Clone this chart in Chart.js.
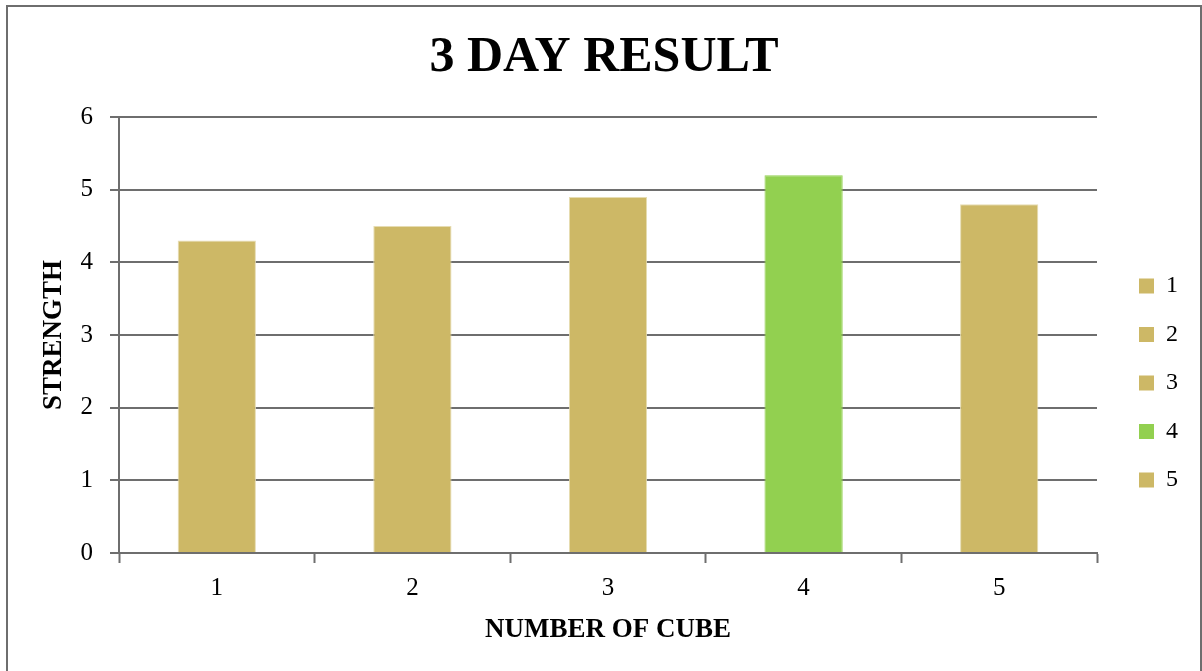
<!DOCTYPE html>
<html>
<head>
<meta charset="utf-8">
<title>3 DAY RESULT</title>
<script src="https://cdn.jsdelivr.net/npm/chart.js@4"></script>
<style>
  html, body { margin: 0; padding: 0; background: #ffffff; }
  #wrap { width: 1202px; height: 671px; }
</style>
</head>
<body>
<div id="wrap"><canvas id="chart" width="1202" height="671"></canvas></div>
<script>
// Cube numbers and their 3-day strength results
const cubes = ['1', '2', '3', '4', '5'];
const strength = [4.3, 4.5, 4.9, 5.2, 4.8];
const yTicks = [0, 1, 2, 3, 4, 5, 6];

const TAN = '#CDB866';
const GREEN = '#92D050';
const barColors = [TAN, TAN, TAN, GREEN, TAN];
const barEdges = ['#E6DCB2', '#E6DCB2', '#E6DCB2', GREEN, '#E6DCB2'];

const AXIS = '#6E6E6E';
const SERIF = "'Liberation Serif', 'DejaVu Serif', serif";

// Thin frame around the whole chart
const framePlugin = {
  id: 'frame',
  afterDraw(chart) {
    const ctx = chart.ctx;
    ctx.save();
    ctx.strokeStyle = AXIS;
    ctx.lineWidth = 2;
    ctx.strokeRect(7, 6, chart.width - 8, chart.height + 20);
    ctx.restore();
  }
};

new Chart(document.getElementById('chart'), {
  type: 'bar',
  data: {
    labels: cubes,
    datasets: [{
      label: 'STRENGTH',
      data: strength,
      backgroundColor: barColors,
      borderColor: barEdges,
      borderWidth: 1,
      barPercentage: 0.4,
      categoryPercentage: 1.0
    }]
  },
  options: {
    responsive: false,
    animation: false,
    devicePixelRatio: 1,
    layout: { padding: { left: 20, right: 14, top: 0, bottom: 0 } },
    plugins: {
      title: {
        display: true,
        text: '3 DAY RESULT',
        color: '#000',
        font: { family: SERIF, size: 50, weight: 'bold', lineHeight: 1.2 },
        padding: { top: 28, bottom: 29 }
      },
      legend: {
        display: true,
        position: 'right',
        align: 'center',
        title: {
          display: true,
          text: ' ',
          font: { size: 10, lineHeight: 1.2 },
          padding: { top: 83, bottom: 0 }
        },
        labels: {
          boxWidth: 15,
          boxHeight: 15,
          padding: 24.5,
          color: '#000',
          font: { family: SERIF, size: 24 },
          generateLabels: () => cubes.map((c, i) => ({
            text: c,
            fillStyle: barColors[i],
            strokeStyle: barColors[i],
            fontColor: '#000',
            lineWidth: 0,
            hidden: false,
            index: i,
            datasetIndex: 0
          }))
        }
      },
      tooltip: { enabled: false }
    },
    scales: {
      x: {
        offset: true,
        grid: {
          display: true,
          offset: true,
          drawOnChartArea: false,
          drawTicks: true,
          tickLength: 10,
          tickColor: AXIS,
          tickWidth: 2,
          color: AXIS
        },
        border: { display: true, color: AXIS, width: 2 },
        ticks: {
          color: '#000',
          padding: 10,
          font: { family: SERIF, size: 25, lineHeight: 1.2 }
        },
        title: {
          display: true,
          text: 'NUMBER OF CUBE',
          color: '#000',
          font: { family: SERIF, size: 27, weight: 'bold', lineHeight: 1.2 },
          padding: { top: 0, bottom: 25 }
        },
        afterFit: s => { s.height = 118; }
      },
      y: {
        min: yTicks[0],
        max: yTicks[yTicks.length - 1],
        afterBuildTicks: s => { s.ticks = yTicks.map(v => ({ value: v })); },
        grid: {
          display: true,
          drawOnChartArea: true,
          drawTicks: true,
          tickLength: 9,
          color: AXIS,
          lineWidth: 2,
          tickColor: AXIS,
          tickWidth: 2
        },
        border: { display: true, color: AXIS, width: 2 },
        ticks: {
          color: '#000',
          padding: 17,
          font: { family: SERIF, size: 25, lineHeight: 1.2 }
        },
        title: {
          display: true,
          text: 'STRENGTH',
          color: '#000',
          font: { family: SERIF, size: 27, weight: 'bold', lineHeight: 1.2 },
          padding: { top: 18, bottom: 0 }
        },
        afterFit: s => { s.width = 99; }
      },
      // empty spacer between the plot and the legend
      gap: {
        type: 'linear',
        position: 'right',
        display: true,
        grid: { display: false },
        border: { display: false },
        ticks: { display: false },
        title: { display: false },
        afterFit: s => { s.width = 17.5; }
      }
    }
  },
  plugins: [framePlugin]
});
</script>
</body>
</html>
